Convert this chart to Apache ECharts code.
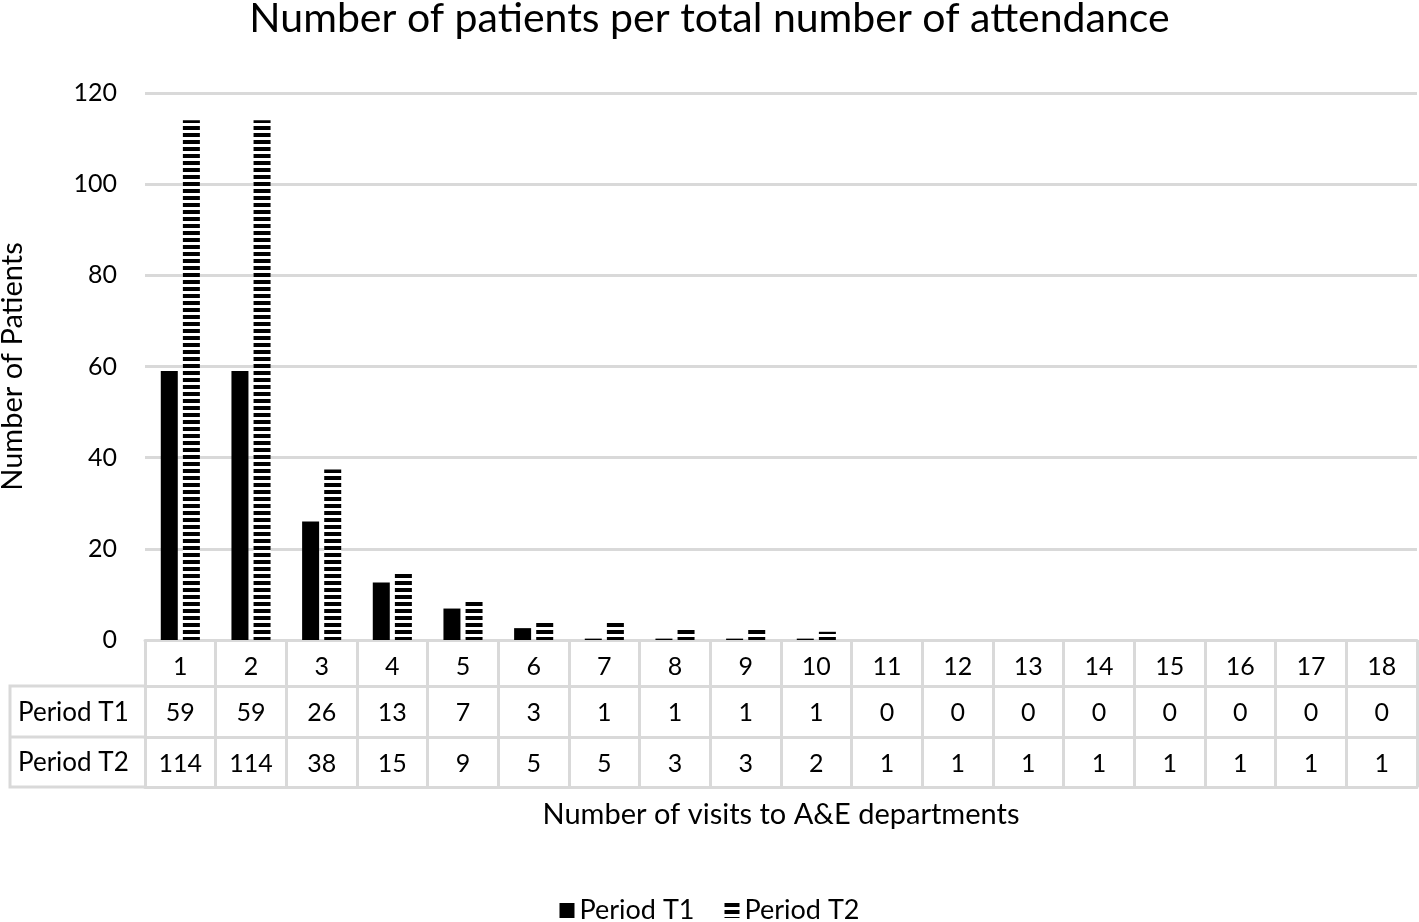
<!DOCTYPE html>
<html>
<head>
<meta charset="utf-8">
<script src="https://cdn.jsdelivr.net/npm/echarts@6/dist/echarts.min.js"></script>
<style>
html,body{margin:0;padding:0;background:#fff;}
#chart{width:1419px;height:922px;}
</style>
</head>
<body>
<div id="chart"></div>
<script>
const categories = ['1','2','3','4','5','6','7','8','9','10','11','12','13','14','15','16','17','18'];
const tableT1 = [59,59,26,13,7,3,1,1,1,1,0,0,0,0,0,0,0,0];
const tableT2 = [114,114,38,15,9,5,5,3,3,2,1,1,1,1,1,1,1,1];
// bar heights as drawn in the picture
const barT1 = [59,59,26,12.6,6.9,2.6,0.3,0.3,0.3,0.3,0,0,0,0,0,0,0,0];
const barT2 = [114,114,37.4,14.6,8.9,4,4,2.6,2.6,1.8,0,0,0,0,0,0,0,0];
const seriesNames = ['Period T1','Period T2'];

const FONT = 'Lato';
const GRID_COLOR = '#d9d9d9';
const chart = echarts.init(document.getElementById('chart'));

const G = {left:145, right:2, top:93, bottom:282, outerBoundsMode:'none', containLabel:false};
const row1 = 640, row2 = 686, row3 = 737, row4 = 787;

function tableAxis(offset, tickLen, labels, showLabel, name){
  return {
    type:'category', data:categories, position:'bottom', offset:offset,
    boundaryGap:true,
    axisLine:{show:true, onZero:false, lineStyle:{color:GRID_COLOR, width:3}},
    axisTick:{show:tickLen>0, length:tickLen, alignWithLabel:false, lineStyle:{color:GRID_COLOR, width:3}},
    axisLabel:{show:showLabel, margin:14, fontFamily:FONT, fontSize:25, color:'#000',
      formatter:function(v, i){ return labels ? String(labels[i]) : v; }},
    splitLine:{show:false},
    name: name || '', nameLocation:'middle', nameGap:13,
    nameTextStyle:{fontFamily:FONT, fontSize:29, color:'#000'}
  };
}

const option = {
  backgroundColor:'#fff',
  animation:false,
  title:{text:'Number of patients per total number of attendance', left:'center', top:-7,
    textStyle:{fontFamily:FONT, fontSize:41, fontWeight:'normal', color:'#000'}},
  legend:{data:seriesNames, bottom:-7, left:'center', icon:'rect', itemWidth:15, itemHeight:15, itemGap:30,
    textStyle:{fontFamily:FONT, fontSize:27, color:'#000'}},
  grid:G,
  yAxis:{type:'value', min:0, max:120, interval:20,
    name:'Number of Patients', nameLocation:'middle', nameGap:118,
    nameTextStyle:{fontFamily:FONT, fontSize:29, color:'#000'},
    axisLine:{show:false}, axisTick:{show:false},
    axisLabel:{margin:28, fontFamily:FONT, fontSize:25, color:'#000'},
    splitLine:{lineStyle:{color:GRID_COLOR, width:3}}},
  xAxis:[
    tableAxis(0, row2-row1, null, true),
    tableAxis(row2-row1, row3-row2, tableT1, true),
    tableAxis(row3-row1, row4-row3, tableT2, true),
    tableAxis(row4-row1, 0, null, false, 'Number of visits to A&E departments')
  ],
  series:[
    {name:seriesNames[0], type:'bar', xAxisIndex:0, data:barT1, barWidth:17, barGap:'30%',
      itemStyle:{color:'#000'}},
    {name:seriesNames[1], type:'bar', xAxisIndex:0, data:barT2, barWidth:17,
      itemStyle:{color:'#fff', decal:{symbol:'rect', symbolSize:1, dashArrayX:[1,0], dashArrayY:[3.5,3], color:'#000', rotation:0}}}
  ],
  graphic:[
    {type:'polyline', shape:{points:[[G.left,row2],[10,row2],[10,row4],[G.left,row4]]}, style:{stroke:GRID_COLOR, lineWidth:3, fill:null}},
    {type:'line', shape:{x1:10,y1:row3,x2:G.left,y2:row3}, style:{stroke:GRID_COLOR, lineWidth:3}},
    {type:'text', x:18, y:(row2+row3)/2+1, style:{text:'Period T1', fontFamily:FONT, fontSize:26, fill:'#000', verticalAlign:'middle'}},
    {type:'text', x:18, y:(row3+row4)/2+1, style:{text:'Period T2', fontFamily:FONT, fontSize:26, fill:'#000', verticalAlign:'middle'}}
  ]
};
chart.setOption(option);
</script>
</body>
</html>
